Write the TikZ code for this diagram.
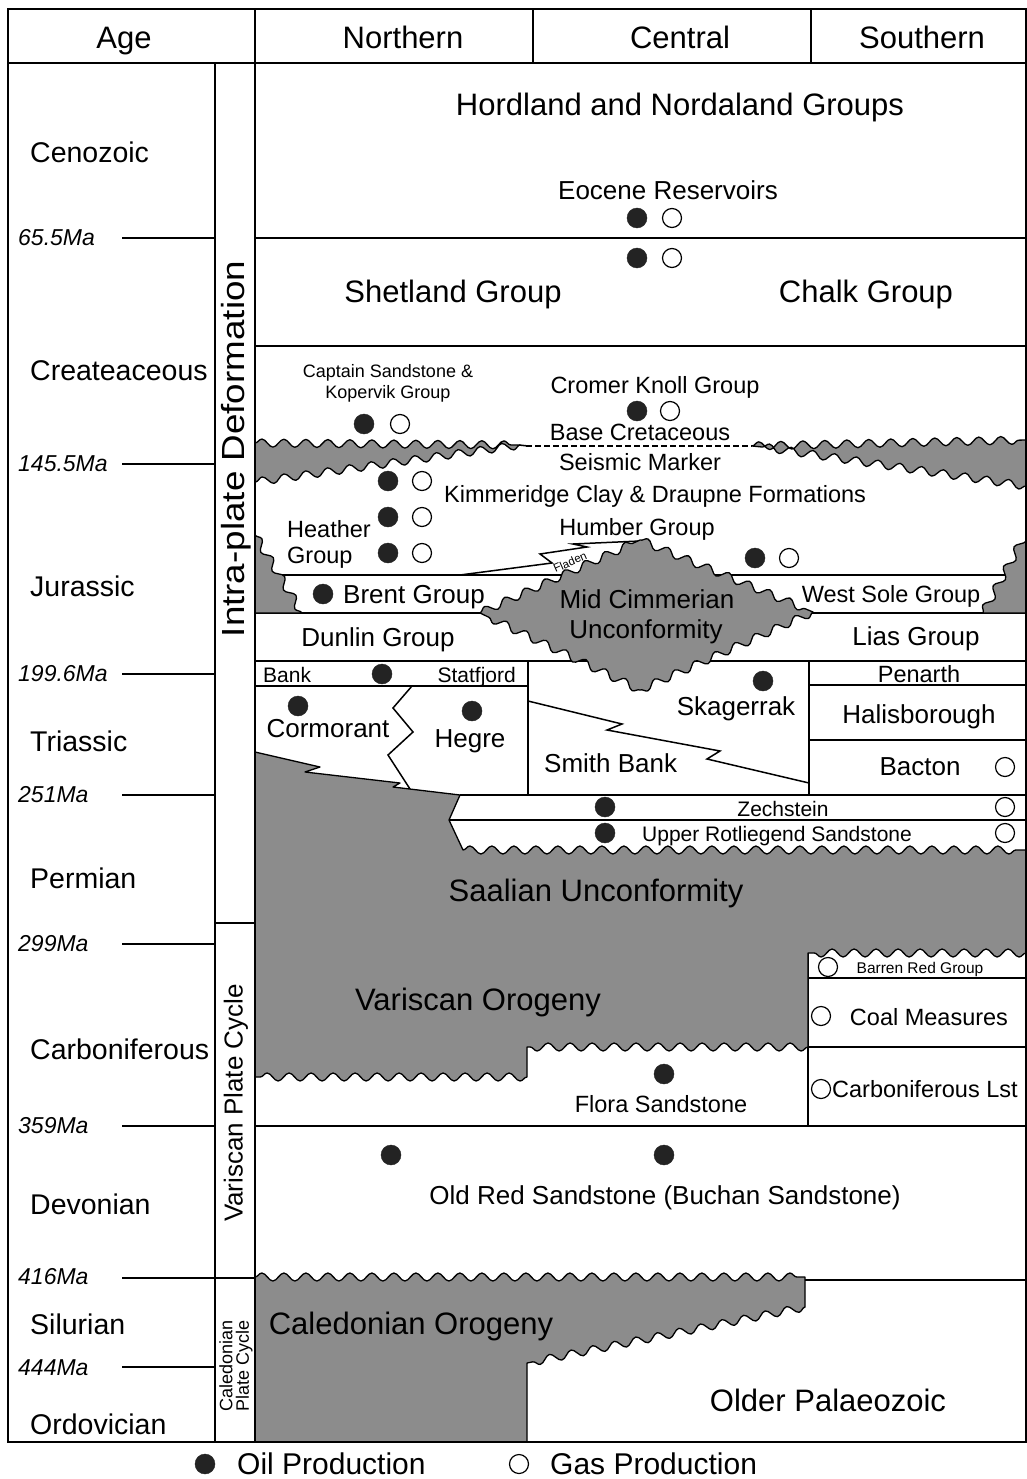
\documentclass[tikz,border=0pt]{standalone}
\usepackage{fontspec}
\setmainfont{Liberation Sans}
\usetikzlibrary{decorations.pathmorphing}
\definecolor{unc}{RGB}{140,140,140}
\definecolor{oilc}{RGB}{35,35,35}
\begin{document}
\begin{tikzpicture}[x=1pt,y=-1pt,
  ln/.style={line width=1.5pt},
  gr/.style={fill=unc, draw=black, line width=1.3pt, line join=round},
  wv/.style={decoration={snake,segment length=22,amplitude=4}},
  oil/.style={circle, fill=oilc, draw=oilc, minimum size=20pt, inner sep=0pt},
  gas/.style={circle, fill=white, draw=black, line width=1.2pt, minimum size=19pt, inner sep=0pt},
  fA/.style={inner sep=0pt, anchor=base, font=\fontsize{31}{36}\selectfont},
  fP/.style={inner sep=0pt, anchor=base west, font=\fontsize{28.5}{34}\selectfont},
  fB/.style={inner sep=0pt, anchor=base, font=\fontsize{26}{31}\selectfont},
  fC/.style={inner sep=0pt, anchor=base, font=\fontsize{23.5}{28}\selectfont},
  fD/.style={inner sep=0pt, anchor=base, font=\fontsize{21}{25}\selectfont},
  fE/.style={inner sep=0pt, anchor=base, font=\fontsize{18}{21}\selectfont},
  fF/.style={inner sep=0pt, anchor=base, font=\fontsize{15.5}{18}\selectfont},
  ma/.style={inner sep=0pt, anchor=west, font=\fontsize{23}{27}\selectfont\itshape},
]
\useasboundingbox (0,0) rectangle (1027,1479);
\fill[white] (0,0) rectangle (1027,1479);

% ---- internal lines of the chart ----
\draw[ln] (255,238) -- (1026,238);
\draw[ln] (255,346) -- (1026,346);
\draw[ln] (268,575) -- (1020,575);
\draw[ln] (255,613) -- (1026,613);
\draw[ln] (255,661) -- (1026,661);
\draw[ln] (255,686) -- (528,686);
\draw[ln] (809,685) -- (1026,685);
\draw[ln] (809,740) -- (1026,740);
\draw[ln] (528,661) -- (528,795);
\draw[ln] (809,661) -- (809,795);
\draw[ln] (460,795) -- (1026,795);
\draw[ln] (449,820) -- (1026,820);
\draw[ln] (412,686) -- (393,708) -- (413,732) -- (388,755) -- (410,789);
\draw[ln] (528,701) -- (622,724) -- (607,730) -- (720,751) -- (707,759) -- (809,783);
\draw[ln] (460,575) -- (552,563) -- (540,554) -- (587,547) -- (573,544) -- (640,541);
\draw[ln, dash pattern=on 6pt off 3pt] (526,446) -- (752,446);
\draw[ln] (808,953) -- (808,1126);
\draw[ln] (808,978) -- (1026,978);
\draw[ln] (808,1047) -- (1026,1047);
\draw[ln] (255,1126) -- (1026,1126);
\draw[ln] (805,1280) -- (1026,1280);

% ---- unconformities (grey) ----
\filldraw[gr] (255,443) decorate[wv]{-- (520,445)} decorate[wv]{-- (255,482)} -- cycle;
\draw[ln] (519,445) decorate[wv]{-- (528,446)};
\filldraw[gr] (752,446) decorate[wv]{-- (1026,440)} -- (1026,486) decorate[wv]{-- (762,447)} -- cycle;
\filldraw[gr] (255,535) decorate[wv]{-- (302,613)} -- (255,613) -- cycle;
\filldraw[gr] (1026,533) decorate[wv]{-- (983,613)} -- (1026,613) -- cycle;
\filldraw[gr] (480,613) decorate[wv]{-- (640,540)} decorate[wv]{-- (813,612)} decorate[wv]{-- (640,690)} decorate[wv]{-- (480,613)} -- cycle;
\filldraw[gr] (255,752) -- (320,767) -- (305,772) -- (400,783) -- (393,787) -- (460,795) -- (449,820) -- (463,850)
   decorate[wv]{-- (1026,850)} -- (1026,953) decorate[wv]{-- (808,953)} -- (808,1047)
   decorate[wv]{-- (527,1047)} -- (527,1077) decorate[wv]{-- (255,1077)} -- cycle;
\filldraw[gr] (255,1277) decorate[wv]{-- (805,1277)} -- (805,1307) decorate[wv]{-- (527,1363)} -- (527,1442) -- (255,1442) -- cycle;

% ---- frame ----
\draw[ln] (8,9) rectangle (1026,1442);
\draw[ln] (8,63) -- (1026,63);
\draw[ln] (255,9) -- (255,1442);
\draw[ln] (533,9) -- (533,63);
\draw[ln] (811,9) -- (811,63);
\draw[ln] (215,63) -- (215,1442);
\draw[ln] (215,923) -- (255,923);
\draw[ln] (122,1278) -- (255,1278);
\foreach \yy in {238,464,674,795,944,1126,1367} \draw[ln] (122,\yy) -- (215,\yy);

% ---- header ----
\node[fA] (hAge) at (124,49) {Age};
\node[fA] (hN) at (403,49) {Northern};
\node[fA] (hC) at (680,49) {Central};
\node[fA] (hS) at (922,49) {Southern};

% ---- periods ----
\node[fP] (pCen) at (30,163) {Cenozoic};
\node[fP] (pCre) at (30,380) {Createaceous};
\node[fP] (pJur) at (30,596) {Jurassic};
\node[fP] (pTri) at (30,751) {Triassic};
\node[fP] (pPer) at (30,888) {Permian};
\node[fP] (pCar) at (30,1059) {Carboniferous};
\node[fP] (pDev) at (30,1214) {Devonian};
\node[fP] (pSil) at (30,1334) {Silurian};
\node[fP] (pOrd) at (30,1434) {Ordovician};

% ---- ages ----
\node[ma] (m1) at (18,238) {65.5Ma};
\node[ma] (m2) at (18,464) {145.5Ma};
\node[ma] (m3) at (18,674) {199.6Ma};
\node[ma] (m4) at (18,795) {251Ma};
\node[ma] (m5) at (18,944) {299Ma};
\node[ma] (m6) at (18,1126) {359Ma};
\node[ma] (m7) at (18,1277) {416Ma};
\node[ma] (m8) at (18,1368) {444Ma};

% ---- tectonic column ----
\node[rotate=90, inner sep=0pt, font=\fontsize{32}{37}\selectfont] (ipd) at (236,449) {\scalebox{1.15}[1]{Intra-plate Deformation}};
\node[rotate=90, inner sep=0pt, font=\fontsize{26}{30}\selectfont] (vpc) at (236,1103) {Variscan Plate Cycle};
\node[rotate=90, inner sep=0pt, align=center, font=\fontsize{18}{16.5}\selectfont] (cpc) at (236,1366) {Caledonian\\Plate Cycle};

% ---- formations ----
\node[fA] (hord) at (680,116) {Hordland and Nordaland Groups};
\node[fB] (eoc) at (668,200) {Eocene Reservoirs};
\node[oil] (o1) at (637,218) {}; \node[gas] (g1) at (672,218) {};
\node[oil] (o2) at (637,258) {}; \node[gas] (g2) at (672,258) {};
\node[fA] (shet) at (453,302) {Shetland Group};
\node[fA] (chalk) at (866,302) {Chalk Group};
\node[fE] (capt) at (388,377) {Captain Sandstone \&};
\node[fE] (kop) at (388,398) {Kopervik Group};
\node[oil] (o3) at (364,424) {}; \node[gas] (g3) at (400,424) {};
\node[fC] (crom) at (655,393) {Cromer Knoll Group};
\node[oil] (o4) at (637,411) {}; \node[gas] (g4) at (670,411) {};
\node[fC] (bcr) at (640,440) {Base Cretaceous};
\node[fC] (sm) at (640,470) {Seismic Marker};
\node[oil] (o5) at (388,481) {}; \node[gas] (g5) at (422,481) {};
\node[oil] (o6) at (388,517) {}; \node[gas] (g6) at (422,517) {};
\node[oil] (o7) at (388,553) {}; \node[gas] (g7) at (422,553) {};
\node[fC, anchor=base west] (kim) at (444,502) {Kimmeridge Clay \& Draupne Formations};
\node[fC, anchor=base west] (heat) at (287,537) {Heather};
\node[fC, anchor=base west] (heat2) at (287,563) {Group};
\node[fC] (hum) at (637,535) {Humber Group};
\node[oil] (o8) at (755,558) {}; \node[gas] (g8) at (789,558) {};
\node[rotate=24, inner sep=0pt, font=\fontsize{11.5}{13}\selectfont] (fla) at (570,562) {Fladen};
\node[oil] (o9) at (323,594) {};
\node[fB, anchor=base west] (brent) at (343,603) {Brent Group};
\node[fB] (mcu1) at (647,608) {Mid Cimmerian};
\node[fB] (mcu2) at (646,638) {Unconformity};
\node[fC] (wsg) at (891,602) {West Sole Group};
\node[fB] (dun) at (378,646) {Dunlin Group};
\node[fB] (lias) at (916,645) {Lias Group};
\node[fD, anchor=base west] (bank) at (263,682) {Bank};
\node[oil] (o10) at (382,674) {};
\node[fD, anchor=base east] (stat) at (516,682) {Statfjord};
\node[fC] (pen) at (919,682) {Penarth};
\node[oil] (o11) at (298,706) {};
\node[fB] (corm) at (328,737) {Cormorant};
\node[oil] (o12) at (472,711) {};
\node[fB] (heg) at (470,747) {Hegre};
\node[oil] (o13) at (763,681) {};
\node[fB] (skag) at (736,715) {Skagerrak};
\node[fB] (hal) at (919,723) {Halisborough};
\node[fB, anchor=base west] (smb) at (544,772) {Smith Bank};
\node[fB] (bac) at (920,775) {Bacton};
\node[gas] (g9) at (1005,767) {};
\node[oil] (o14) at (605,807) {};
\node[fD] (zech) at (783,816) {Zechstein};
\node[gas] (g10) at (1005,807) {};
\node[oil] (o15) at (605,833) {};
\node[fD] (urs) at (777,841) {Upper Rotliegend Sandstone};
\node[gas] (g11) at (1005,833) {};
\node[fA] (saal) at (596,901) {Saalian Unconformity};
\node[fA] (vari) at (478,1010) {Variscan Orogeny};
\node[gas] (g12) at (828,967) {};
\node[fF] (brg) at (920,973) {Barren Red Group};
\node[gas] (g13) at (821,1016) {};
\node[fC] (coal) at (929,1025) {Coal Measures};
\node[gas] (g14) at (821,1089) {};
\node[fC, anchor=base west] (clst) at (832,1097) {Carboniferous Lst};
\node[oil] (o16) at (664,1074) {};
\node[fC] (flora) at (661,1112) {Flora Sandstone};
\node[oil] (o17) at (391,1155) {};
\node[oil] (o18) at (664,1155) {};
\node[fB] (ors) at (665,1204) {Old Red Sandstone (Buchan Sandstone)};
\node[fA] (cal) at (411,1334) {Caledonian Orogeny};
\node[fA] (olp) at (828,1411) {Older Palaeozoic};

% ---- legend ----
\node[oil] (lo) at (205,1464) {};
\node[fA, anchor=base west, font=\fontsize{30}{34}\selectfont] (lot) at (237,1474) {Oil Production};
\node[gas] (lg) at (519,1464) {};
\node[fA, anchor=base west, font=\fontsize{30}{34}\selectfont] (lgt) at (550,1474) {Gas Production};
\end{tikzpicture}
\end{document}
